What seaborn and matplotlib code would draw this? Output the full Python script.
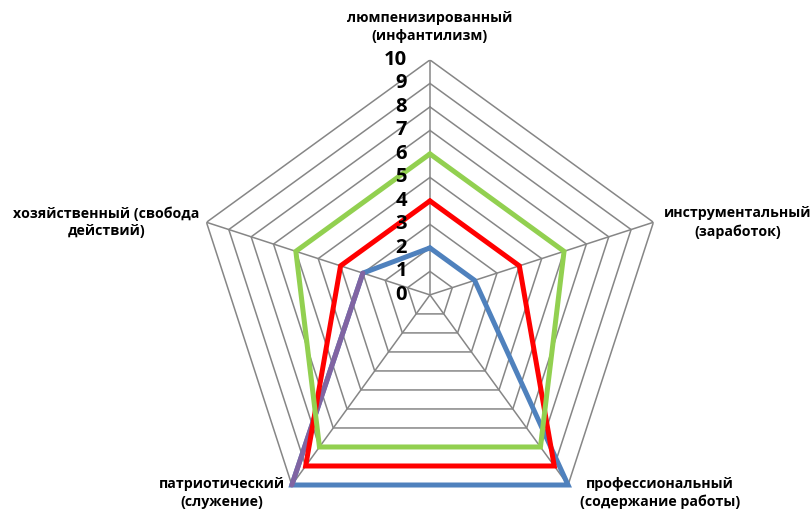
import numpy as np
import matplotlib
matplotlib.use("Agg")
import matplotlib.pyplot as plt
import seaborn as sns

# =========================
# DATA
# =========================

categories = [
    "люмпенизированный\n(инфантилизм)",
    "инструментальный\n(заработок)",
    "профессиональный\n(содержание работы)",
    "патриотический\n(служение)",
    "хозяйственный (свобода\nдействий)",
]

blue_values = [2, 2, 10, 10, 3]
purple_values = [np.nan, np.nan, np.nan, 10, 3]
red_values = [4, 4, 9, 9, 4]
green_values = [6, 6, 8, 8, 6]

levels = list(range(0, 11))

# label offsets in pixels (from the outer vertex of each axis)
label_offsets = [(0, 33), (84, 0), (92, -8), (-70, -8), (-100, 0)]

# =========================
# STYLE
# =========================

sns.set_theme(style="white")
plt.rcParams["font.family"] = ["Open Sans", "DejaVu Sans"]

grid_color = "#868686"

fig = plt.figure(figsize=(8.11, 5.11), dpi=100)
ax = fig.add_axes([0.2404, -0.037, 0.5795, 0.9198], projection="polar")
ax.set_theta_offset(np.pi / 2)
ax.set_theta_direction(-1)
ax.set_ylim(0, 10)
ax.grid(False)
ax.spines["polar"].set_visible(False)
ax.set_xticks([])
ax.set_yticks([])
ax.patch.set_alpha(0)

n = len(categories)
angles = np.linspace(0, 2 * np.pi, n, endpoint=False)
closed = np.append(angles, angles[0])

# pentagon grid
for lv in levels[1:]:
    ax.plot(closed, [lv] * (n + 1), color=grid_color, lw=1.1, zorder=1)
for a in angles:
    ax.plot([a, a], [0, 10], color=grid_color, lw=1.1, zorder=1)

# =========================
# SERIES
# =========================

def draw(values, color, z):
    vals = list(values) + [values[0]]
    ax.plot(closed, vals, color=color, lw=3.6, zorder=z,
            solid_joinstyle="miter", clip_on=False)

draw(blue_values, "#4F81BD", 3)
draw(purple_values, "#8064A2", 4)
draw(red_values, "#FF0000", 5)
draw(green_values, "#92D050", 6)

# radial labels
for lv in levels:
    ax.annotate(str(lv), xy=(0, lv), xytext=(-23, 0),
                textcoords="offset pixels", ha="right", va="center",
                fontsize=14.5, fontweight="bold", color="black",
                annotation_clip=False, zorder=10)

# axis labels
for a, lab, off in zip(angles, categories, label_offsets):
    ax.annotate(lab, xy=(a, 10), xytext=off, textcoords="offset pixels",
                ha="center", va="center", fontsize=10.2, fontweight="bold",
                color="black", linespacing=1.35, annotation_clip=False)

fig.savefig("out.png", dpi=100)
